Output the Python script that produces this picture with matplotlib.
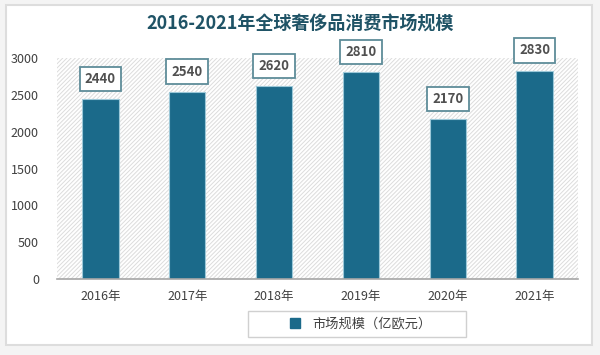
import matplotlib as mpl
mpl.use('Agg')
import matplotlib.pyplot as plt
from matplotlib.patches import Rectangle
from matplotlib.lines import Line2D

plt.rcParams['font.family'] = ['Noto Sans CJK SC', 'DejaVu Sans']
plt.rcParams['hatch.color'] = '#dcdcdc'
plt.rcParams['hatch.linewidth'] = 0.7

years = ['2016年', '2017年', '2018年', '2019年', '2020年', '2021年']
market = [2440, 2540, 2620, 2810, 2170, 2830]
yticks = [0, 500, 1000, 1500, 2000, 2500, 3000]

bar_color = '#1b6a8a'
text_color = '#404040'

fig = plt.figure(figsize=(6, 3.55), dpi=100)
fig.patch.set_facecolor('#f4f4f4')

# white card with light border
card = Rectangle((6 / 600, 1 - 345 / 355), 586 / 600, 340 / 355,
                 transform=fig.transFigure, facecolor='white',
                 edgecolor='#dddddd', linewidth=1.5, zorder=-10)
fig.patches.append(card)

# legend frame
legbox = Rectangle((248 / 600, 1 - 337 / 355), 218 / 600, 26 / 355,
                   transform=fig.transFigure, facecolor='white',
                   edgecolor='#d0d0d0', linewidth=1.0, zorder=-5)
fig.patches.append(legbox)

ax = fig.add_axes([57 / 600, 1 - 279 / 355, 521 / 600, 221 / 355])
ax.set_facecolor('none')

# hatched plot area
ax.add_patch(Rectangle((0, 0), 1, 1, transform=ax.transAxes, facecolor='white',
                       edgecolor='#dcdcdc', hatch='////////', linewidth=0, zorder=0))

x = range(len(years))
ax.bar(x, market, width=0.42, color=bar_color, edgecolor='#9cc8d8',
       linewidth=0.8, zorder=2)

for xi, v in zip(x, market):
    ax.annotate(str(v), (xi, v), xytext=(0, 14.5), textcoords='offset points',
                ha='center', va='center', fontsize=9.5, color='#505050', fontweight='bold',
                bbox=dict(boxstyle='square,pad=0.4', facecolor='white',
                          edgecolor='#5e8c99', linewidth=1.3), zorder=3)

ax.set_xlim(-0.5, len(years) - 0.5)
ax.set_ylim(0, 3000)
ax.set_xticks(list(x))
ax.set_xticklabels(years, fontsize=9, color=text_color)
ax.set_yticks(yticks)
ax.set_yticklabels([str(t) for t in yticks], fontsize=9, color=text_color)
ax.tick_params(length=0, pad=8)
ax.tick_params(axis='y', pad=13)
for s in ['top', 'right', 'left']:
    ax.spines[s].set_visible(False)
ax.spines['bottom'].set_color('#a6a6a6')
ax.spines['bottom'].set_linewidth(1.2)

fig.text(0.5, 1 - 24 / 355, '2016-2021年全球奢侈品消费市场规模', ha='center', va='center',
         fontsize=13, fontweight='bold', color='#1f5366')

handle = Line2D([], [], marker='s', linestyle='none', markersize=7,
                markerfacecolor=bar_color, markeredgecolor=bar_color)
fig.legend([handle], ['市场规模（亿欧元）'], loc='center',
           bbox_to_anchor=(357 / 600, 1 - 324 / 355), fontsize=9.5,
           frameon=False, handletextpad=0.3, labelcolor=text_color)

fig.savefig('out.png', dpi=100)
